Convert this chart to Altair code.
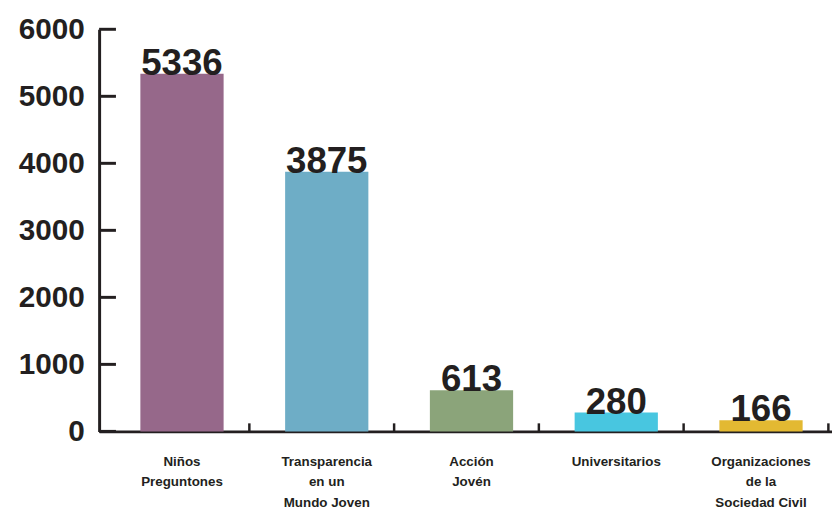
import altair as alt
import pandas as pd

categories = [
    "Niños|Preguntones",
    "Transparencia|en un|Mundo Joven",
    "Acción|Jovén",
    "Universitarios",
    "Organizaciones|de la|Sociedad Civil",
]
values = [5336, 3875, 613, 280, 166]
colors = ["#96688a", "#6eadc6", "#8ba47a", "#48c6e0", "#e3b932"]
y_ticks = [0, 1000, 2000, 3000, 4000, 5000, 6000]

df = pd.DataFrame({"cat": categories, "value": values, "color": colors})
ticks_df = pd.DataFrame({"tick": y_ticks})

INK = "#231f20"
FONT = "Liberation Sans"

x_scale = alt.Scale(domain=categories, range=[0, 752], paddingInner=0.425, paddingOuter=0.285)
y_scale = alt.Scale(domain=[0, 6000])

x = alt.X(
    "cat:N",
    sort=categories,
    scale=x_scale,
    axis=alt.Axis(
        title=None,
        labelExpr="split(datum.label, '|')",
        labelFont=FONT,
        labelFontSize=13.5,
        labelFontWeight="bold",
        labelColor=INK,
        labelLineHeight=21,
        labelAngle=0,
        labelBaseline="top",
        labelPadding=23,
        ticks=False,
        domainWidth=3,
        domainColor=INK,
    ),
)

y = alt.Y(
    "value:Q",
    scale=y_scale,
    axis=alt.Axis(
        title=None,
        values=y_ticks,
        format="d",
        grid=False,
        labelFont=FONT,
        labelFontSize=30,
        labelFontWeight="bold",
        labelColor=INK,
        labelPadding=15,
        ticks=False,
        domainWidth=3,
        domainColor=INK,
    ),
)

base = alt.Chart(df).encode(x=x, y=y)

bars = base.mark_bar().encode(color=alt.Color("color:N", scale=None))

labels = base.mark_text(
    font=FONT,
    fontSize=37,
    fontWeight="bold",
    baseline="alphabetic",
    dy=1,
    color=INK,
).encode(text=alt.Text("value:Q", format="d"))

# inward y ticks
y_tick_marks = (
    alt.Chart(ticks_df)
    .mark_rule(color=INK, strokeWidth=3)
    .encode(
        y=alt.Y("tick:Q", scale=y_scale),
        x=alt.value(0),
        x2=alt.value(17),
    )
)

# upward x ticks between categories
x_tick_marks = (
    alt.Chart(df)
    .mark_rule(color=INK, strokeWidth=2.5, xOffset=26)
    .encode(
        x=alt.X("cat:N", sort=categories, scale=x_scale, bandPosition=1),
        y=alt.datum(0, scale=y_scale),
        y2=alt.datum(120),
    )
)

chart = (
    alt.layer(bars, labels, y_tick_marks, x_tick_marks)
    .properties(
        width=740,
        height=406,
        autosize=alt.AutoSizeParams(type="none"),
        padding={"left": 92, "top": 19, "right": 0, "bottom": 90},
        background="white",
    )
    .configure_view(stroke=None)
)

chart.save("out.html", embed_options={"renderer": "svg", "actions": False})
